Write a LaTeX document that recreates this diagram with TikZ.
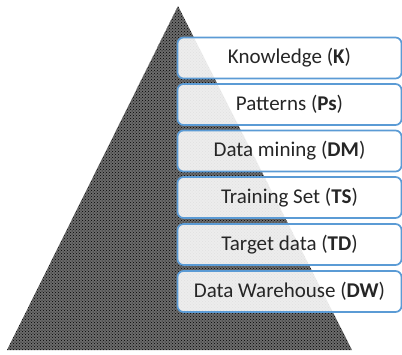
\documentclass[tikz,border=0pt]{standalone}
\usepackage{fontspec}
\setmainfont{Carlito}
\usetikzlibrary{patterns}
\definecolor{boxblue}{HTML}{5B9BD5}
\begin{document}
\begin{tikzpicture}[x=1pt,y=-1pt,
  layer/.style={draw=boxblue, draw opacity=1, line width=1.7pt, rounded corners=6pt,
    fill=white, fill opacity=0.88, text opacity=1,
    minimum width=224pt, minimum height=41pt, inner sep=0pt,
    font=\fontsize{21}{25}\selectfont, text=black!85}]
\useasboundingbox (0,0) rectangle (402,354);
\fill[black!58] (178,6) -- (352,350) -- (7,350) -- cycle;
\fill[pattern=crosshatch dots, pattern color=black] (178,6) -- (352,350) -- (7,350) -- cycle;
\node[layer] (k)  at (289.5,58)    {Knowledge (\textbf{K})};
\node[layer] (ps) at (289.5,104.5) {Patterns (\textbf{Ps})};
\node[layer] (dm) at (289.5,151)   {Data mining (\textbf{DM})};
\node[layer] (ts) at (289.5,197.5) {Training Set (\textbf{TS})};
\node[layer] (td) at (289.5,244.5) {Target data (\textbf{TD})};
\node[layer] (dw) at (289.5,291.5) {Data Warehouse (\textbf{DW})};
\end{tikzpicture}
\end{document}
